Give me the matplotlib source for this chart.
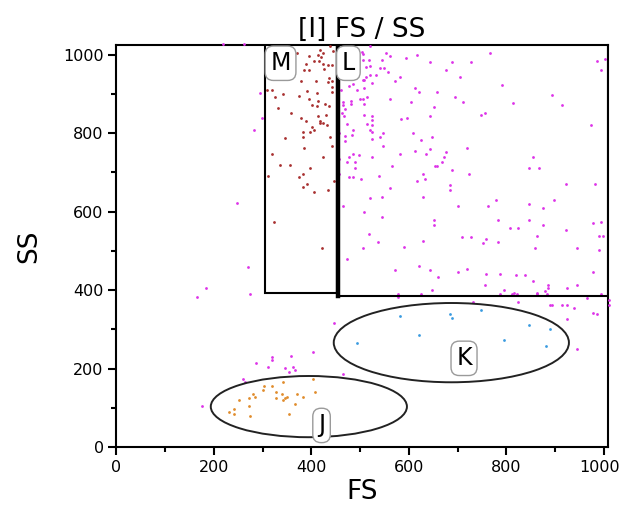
"""FS / SS scatter with gates M, L, K, J."""

import matplotlib
matplotlib.use("Agg")
import matplotlib.pyplot as plt
from matplotlib.patches import Ellipse, Rectangle
from matplotlib.ticker import FixedFormatter, MultipleLocator, FixedLocator

# ungated events (magenta)
mag_x = [295, 299, 283, 220, 263,
         521, 503, 506, 553, 561, 594, 616, 767, 505, 518, 545, 644, 688, 727,
         1001, 986, 993, 513, 521, 540, 548, 676, 557, 533, 521, 512, 581, 704,
         505, 509, 572, 525, 485, 477, 509, 494, 612, 620, 657, 791, 894, 461,
         499, 506, 514, 561, 604, 695, 711, 814, 913, 465, 482, 464, 482, 509,
         469, 652, 462, 466, 509, 525, 525, 584, 597, 644, 747, 755, 514, 525,
         473, 485, 521, 525, 546, 609, 973, 457, 470, 483, 541, 525, 470, 624,
         648, 546, 719, 613, 644, 676, 581, 636, 672, 668, 485, 477, 498, 525,
         457, 474, 490, 490, 565, 653, 657, 688, 847, 866, 854, 628, 724, 538,
         457, 477, 485, 502, 633, 616, 561, 684, 922, 981,
         684, 521, 545, 628, 465, 509, 545, 700, 763, 779, 847, 875, 898, 652,
         652, 783, 847, 875, 977, 993, 807, 823, 922, 518, 862, 989, 998, 708,
         727, 759, 752, 783, 537, 628, 505, 589, 858, 945, 989, 474, 572, 620,
         644, 660, 700, 719, 759, 787, 819, 838, 977, 854, 755, 886, 886, 945,
         925, 648, 795, 815, 812, 822, 786, 862, 862, 878, 883, 993, 577, 577,
         624, 966, 732, 823, 890, 894, 914, 925, 938, 1010, 1010,
         977, 985, 925, 945, 446, 465,
         247, 271, 185, 165, 275,
         403, 359, 319, 319, 287, 311, 347, 362, 366, 355, 260, 264, 176]
mag_y = [901, 838, 809, 1026, 1026,
         1021, 1006, 1002, 1004, 996, 991, 1000, 1004, 987, 987, 987, 980, 980, 980,
         989, 985, 960, 968, 972, 967, 967, 960, 956, 948, 947, 943, 944, 944,
         936, 936, 932, 928, 926, 921, 915, 911, 915, 904, 906, 923, 896, 911,
         888, 888, 892, 887, 879, 892, 879, 876, 871, 880, 883, 871, 874, 875,
         862, 867, 851, 843, 847, 844, 833, 835, 839, 843, 847, 852, 824, 820,
         823, 808, 808, 804, 799, 799, 820, 799, 792, 795, 791, 786, 779, 783,
         791, 768, 763, 755, 759, 751, 746, 747, 739, 726, 747, 739, 743, 739,
         734, 727, 726, 711, 715, 715, 715, 707, 711, 711, 739, 695, 695, 691,
         695, 687, 687, 683, 683, 679, 659, 667, 671, 671,
         655, 634, 638, 638, 615, 598, 587, 615, 615, 630, 619, 610, 630, 578,
         566, 578, 578, 566, 570, 574, 558, 558, 554, 542, 538, 538, 538, 535,
         535, 530, 519, 522, 522, 526, 506, 510, 506, 506, 502, 478, 450, 462,
         450, 434, 445, 454, 441, 441, 438, 438, 445, 422, 413, 413, 405, 413,
         405, 401, 401, 393, 389, 389, 389, 393, 389, 397, 389, 389, 389, 382,
         389, 381, 370, 370, 361, 361, 361, 361, 354, 361, 375,
         341, 338, 326, 249, 317, 185,
         622, 458, 406, 382, 390,
         241, 233, 229, 221, 213, 205, 201, 205, 196, 190, 173, 165, 105]

# gate M events (brown)
m_x = [439, 444, 418, 423, 413, 420, 395, 371, 406, 415, 424, 434, 442, 390,
       386, 395, 427, 436, 442, 434, 410, 379, 443, 310, 319, 343, 326, 375,
       391, 412, 442, 395, 414, 402, 412, 429, 436, 332, 359, 431, 414, 379,
       390, 418, 423, 417, 432, 402, 405, 383, 398, 439, 382, 347, 386, 442,
       319, 423, 335, 356, 398, 383, 374, 311, 391, 382, 434, 406, 446, 323,
       422]
m_y = [1021, 1008, 1013, 1004, 1000, 994, 997, 1004, 983, 983, 975, 973, 973,
       975, 960, 960, 963, 941, 932, 930, 932, 932, 918, 911, 911, 900, 891,
       895, 908, 901, 904, 887, 883, 872, 870, 874, 870, 864, 851, 847, 843,
       838, 832, 832, 827, 826, 820, 816, 809, 804, 804, 790, 789, 787, 763,
       766, 747, 739, 718, 718, 711, 696, 687, 691, 670, 663, 656, 650, 679,
       574, 506]

# gate K events (blue)
k_x = [581, 684, 688, 747, 847, 890, 620, 494, 795, 882]
k_y = [334, 338, 330, 349, 310, 301, 286, 266, 273, 258]

# gate J events (orange)
j_x = [403, 343, 304, 320, 300, 328, 407, 280, 339, 371, 272, 284, 328, 343,
       346, 350, 383, 252, 366, 272, 241, 232, 241, 275, 355]
j_y = [173, 165, 156, 156, 145, 141, 140, 136, 136, 136, 124, 128, 124, 121,
       124, 128, 128, 120, 109, 105, 97, 88, 84, 80, 84]

x_ticks = [0, 200, 400, 600, 800, 1000]
x_tick_labels = ["0", "200", "400", "600", "800", ""]

fig = plt.figure(figsize=(6.21, 5.15), dpi=100)
ax = fig.add_axes([0.187, 0.132, 0.792, 0.781])

dot = dict(s=4, linewidths=0, clip_on=False, zorder=3)
ax.scatter(mag_x, mag_y, color="#dd33e8", **dot)
ax.scatter(m_x, m_y, color="#a83030", **dot)
ax.scatter(k_x, k_y, color="#3a9be0", **dot)
ax.scatter(j_x, j_y, color="#e08c2c", **dot)

# gates
ax.add_patch(Rectangle((305, 393), 148, 700, fill=False, ec="black",
                       lw=1.5, zorder=4))
ax.add_patch(Rectangle((455, 385), 553, 700, fill=False, ec="black",
                       lw=1.5, zorder=4))
ax.plot([455, 455], [385, 1025], color="black", lw=3.2, zorder=5)
ax.add_patch(Ellipse((687, 266), 482, 202, fill=False, ec="#222222",
                     lw=1.4, zorder=4))
ax.add_patch(Ellipse((395, 103), 402, 156, fill=False, ec="#222222",
                     lw=1.4, zorder=4))

box = dict(boxstyle="round,pad=0.22,rounding_size=0.35", fc="white",
           ec="#9a9a9a", lw=1.0)
for txt, x, y in [("M", 337, 978), ("L", 476, 978), ("K", 713, 226),
                  ("J", 421, 55)]:
    ax.text(x, y, txt, ha="center", va="center", fontsize=17, bbox=box,
            zorder=6)

ax.set_xlim(0, 1008)
ax.set_ylim(0, 1025)
ax.xaxis.set_major_locator(FixedLocator(x_ticks))
ax.xaxis.set_major_formatter(FixedFormatter(x_tick_labels))
ax.xaxis.set_minor_locator(MultipleLocator(100))
ax.yaxis.set_major_locator(MultipleLocator(200))
ax.yaxis.set_minor_locator(MultipleLocator(100))
ax.tick_params(which="major", direction="out", length=6, width=1.5,
               labelsize=11.5, pad=3)
ax.tick_params(which="minor", direction="out", length=3.5, width=1.5)
for sp in ax.spines.values():
    sp.set_linewidth(1.5)

# last x tick label, nudged left so it stays inside the canvas
ax.annotate("1000", xy=(x_ticks[-1], 0), xycoords="data",
            xytext=(-3, -9.5), textcoords="offset points",
            ha="center", va="top", fontsize=11.5, annotation_clip=False)

ax.set_xlabel("FS", fontsize=19, labelpad=3)
ax.set_ylabel("SS", fontsize=19, labelpad=15)
ax.set_title("[I] FS / SS", fontsize=19, pad=6)

fig.savefig("out.png", dpi=100)
